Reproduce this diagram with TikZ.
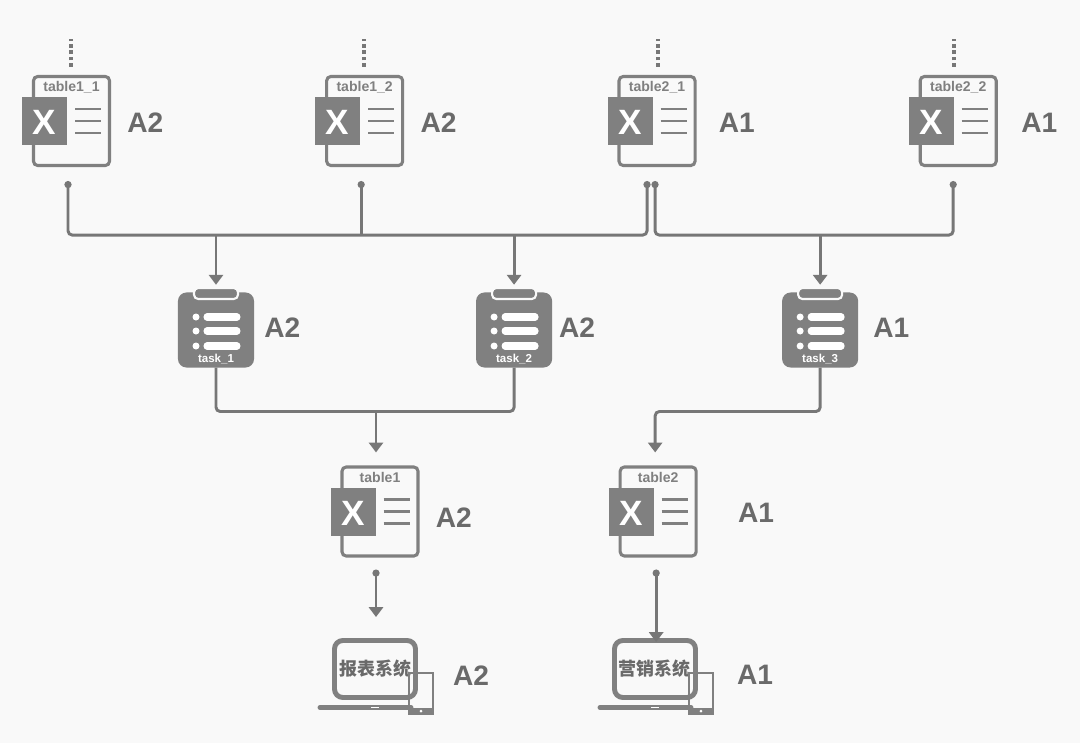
\documentclass[tikz,border=0pt]{standalone}
\usepackage{fontspec}
\setmainfont{Liberation Sans}
\newfontfamily\cjkfont{Noto Sans CJK SC}
\usetikzlibrary{arrows.meta, positioning}
\definecolor{iconGray}{HTML}{808080}
\definecolor{lineGray}{HTML}{777777}
\definecolor{textGray}{HTML}{6A6A6A}
\definecolor{paperGray}{HTML}{F9F9F9}

\begin{document}
\begin{tikzpicture}[
    x=0.025cm, y=-0.025cm,
    % node styles
    doc/.style = {draw=iconGray, line width=2.2pt, rounded corners=3pt, minimum width=1.9cm, minimum height=2.225cm, inner sep=0pt},
    docname/.style = {anchor=north, font=\fontsize{10}{12}\selectfont\bfseries, text=iconGray, inner sep=0pt, yshift=-4.6pt},
    task/.style = {fill=iconGray, rounded corners=6pt, minimum width=1.9cm, minimum height=1.875cm, inner sep=0pt, outer sep=0pt},
    taskname/.style = {anchor=south, font=\fontsize{8.2}{10}\selectfont\bfseries, text=white, inner sep=0pt, yshift=2.5pt},
    app/.style = {draw=iconGray, line width=3.5pt, rounded corners=6pt, minimum width=2.025cm, minimum height=1.425cm, inner sep=0pt, font=\cjkfont\fontsize{12.8}{15}\selectfont\bfseries, text=textGray},
    owner/.style = {inner sep=0pt, yshift=-1pt, font=\fontsize{20}{24}\selectfont\bfseries, text=textGray},
    % connector styles
    dot/.tip = {Circle[length=5pt, width=5pt]},
    head/.tip = {Triangle[length=7pt, width=10pt]},
    link/.style = {draw=lineGray, line width=2.1pt},
    linkdot/.style = {link, dot-},
    linkdots/.style = {link, dot-dot},
    flecha/.style = {link, -head},
    flechadot/.style = {link, dot-head},
    moredots/.style = {draw=lineGray, line width=2.8pt, dash pattern=on 2.5pt off 2.1pt},
    % icons
    excelicon/.pic = {
        \fill [iconGray] (-49.5,-24) rectangle (-4.5,24);
        \node [inner sep=0pt, text=white, font=\fontsize{25}{25}\selectfont\bfseries] at (-27,1.5) {X};
        \foreach \ly in {-12,0,12}
            \draw [iconGray, line width=2.1pt] (3.5,\ly) -- (29.5,\ly);
    },
    taskicon/.pic = {
        \draw [paperGray, fill=iconGray, line width=1.5pt, rounded corners=3pt] (-22,-42) rectangle (22,-31);
        \foreach \ly in {-13,1,16} {
            \fill [white] (-20,\ly) circle (3.5);
            \draw [white, line width=5pt, line cap=round] (-9,\ly) -- (21,\ly);
        }
    },
    laptopicon/.pic = {
        \draw [iconGray, line width=3.5pt, line cap=round] (-55,38.5) -- (36,38.5);
        \draw [white, line width=1pt] (-4,38.5) -- (4,38.5);
        \draw [iconGray, line width=1.9pt] (34,4) rectangle (58,45);
        \fill [iconGray] (34,39) rectangle (58,45);
        \fill [white] (46,42) circle (1.5);
    }
]

\fill [paperGray] (0,0) rectangle (1080,743);
\useasboundingbox (0,0) rectangle (1080,743);

% ===============================
% 1. Source tables
% ===============================
\node (t11) [doc, label={[docname]north:table1\_1}] at (71.5,121) {};
\node (t12) [doc, right=5.35cm of t11, label={[docname]north:table1\_2}] {};
\node (t21) [doc, right=5.33cm of t12, label={[docname]north:table2\_1}] {};
\node (t22) [doc, right=5.55cm of t21, label={[docname]north:table2\_2}] {};

\node (o11) [owner, right=0.4cm of t11] {A2};
\node (o12) [owner, right=0.4cm of t12] {A2};
\node (o21) [owner, right=0.55cm of t21] {A1};
\node (o22) [owner, right=0.58cm of t22] {A1};

% ===============================
% 2. Tasks
% ===============================
\node (task1) [task, label={[taskname]south:task\_1}] at (216,330) {};
\node (task2) [task, right=5.55cm of task1, label={[taskname]south:task\_2}] {};
\node (task3) [task, right=5.75cm of task2, label={[taskname]south:task\_3}] {};

\node (o31) [owner, right=0.25cm of task1, yshift=0.1cm] {A2};
\node (o32) [owner, right=0.17cm of task2, yshift=0.1cm] {A2};
\node (o33) [owner, right=0.37cm of task3, yshift=0.1cm] {A1};

% ===============================
% 3. Result tables and systems
% ===============================
\node (t1) [doc, label={[docname]north:table1}] at (380,511.5) {};
\node (t2) [doc, right=4.975cm of t1, label={[docname]north:table2}] {};

\node (o41) [owner, right=0.4cm of t1, yshift=-0.11cm] {A2};
\node (o42) [owner, right=1cm of t2] {A1};

\node (app1) [app] at (375,669) {报表系统};
\node (app2) [app, right=4.85cm of app1] {营销系统};

\node (o51) [owner, right=0.87cm of app1, yshift=-0.12cm] {A2};
\node (o52) [owner, right=0.97cm of app2, yshift=-0.12cm] {A1};

% icons on the nodes
\foreach \n in {t11,t12,t21,t22,t1,t2}
    \pic at (\n) {excelicon};
\foreach \n in {task1,task2,task3}
    \pic at (\n) {taskicon};
\foreach \n in {app1,app2}
    \pic at (\n) {laptopicon};

% ===============================
% 4. Connector ends
% ===============================
\coordinate (t11out) at ([shift={(-3.5,14)}]t11.south);
\coordinate (t12out) at ([shift={(-3.5,14)}]t12.south);
\coordinate (t21outa) at ([shift={(-10,14)}]t21.south);
\coordinate (t21outb) at ([shift={(-2,14)}]t21.south);
\coordinate (t22out) at ([shift={(-5,14)}]t22.south);
\coordinate (busa) at ([shift={(0,-57)}]task1.north);
\coordinate (busb) at ([shift={(0,-57)}]task2.north);
\coordinate (busc) at ([shift={(0,-57)}]task3.north);
\coordinate (joina) at ([shift={(160,44)}]task1.south);
\coordinate (t1out) at ([shift={(-4,12)}]t1.south);
\coordinate (t2out) at ([shift={(-2,12)}]t2.south);
\coordinate (t1in) at ([shift={(-4,-13)}]t1.north);
\coordinate (t2in) at ([shift={(-3,-13)}]t2.north);
\coordinate (app1in) at ([yshift=21*0.025cm]app1.north);
\coordinate (app2in) at ([yshift=-4*0.025cm]app2.north);

% ===============================
% 5. Connectors
% ===============================
\foreach \n/\dx in {t11/-0.5,t12/-0.5,t21/1,t22/-4}
    \draw [moredots] ([shift={(\dx,-8)}]\n.north) -- ++(0,-28);

\draw [linkdots, rounded corners=3pt] (t11out) -- ++(0,54) -| (t21outa);
\draw [linkdot] (t12out) -- (t12out |- busa);
\draw [linkdots, rounded corners=3pt] (t21outb) -- ++(0,54) -| (t22out);

\draw [flecha, shorten >=5.5pt] (busa) -- (task1.north);
\draw [flecha, shorten >=5.5pt] (busb) -- (task2.north);
\draw [flecha, shorten >=5.5pt] (busc) -- (task3.north);

\draw [link, rounded corners=3pt] (task1.south) |- (joina) -| (task2.south);
\draw [flecha] (joina) -- (t1in);
\draw [flecha, rounded corners=3pt] (task3.south) -- ++(0,44) -| (t2in);

\draw [flechadot] (t1out) -- (t1out |- app1in);
\draw [flechadot] (t2out) -- (t2out |- app2in);

\end{tikzpicture}
\end{document}
